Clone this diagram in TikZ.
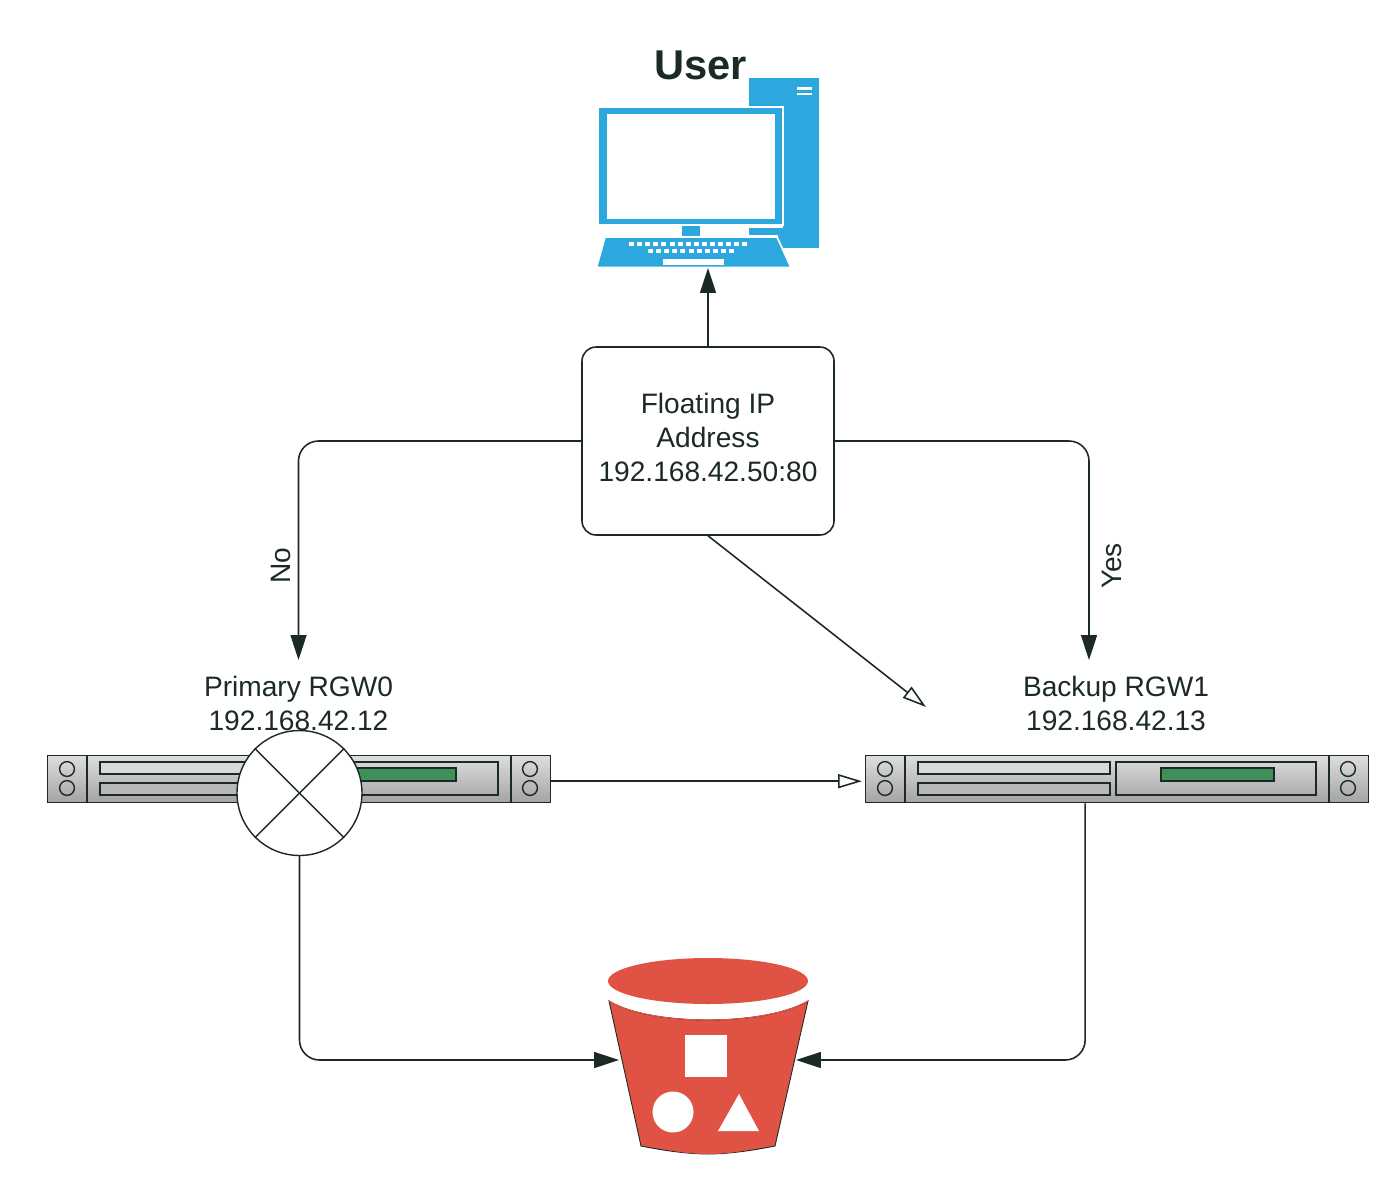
\documentclass[tikz,border=0pt]{standalone}
\usepackage{fontspec}
\setmainfont{Liberation Sans}
\usetikzlibrary{positioning,arrows.meta,calc}

\definecolor{inkdark}{HTML}{1C2A25}
\definecolor{pcblue}{HTML}{2CA8DE}
\definecolor{bucketred}{HTML}{E05243}
\definecolor{ledgreen}{HTML}{3F8F5A}

\tikzset{
  label text/.style={text=inkdark, font=\fontsize{16}{19.3}\selectfont, align=center},
  link/.style={draw=inkdark, line width=0.9pt, rounded corners=0.4cm},
  solidhead/.style={-{Triangle[length=0.5cm,width=0.32cm,color=inkdark]}},
  openhead/.style={-{Triangle[open,length=0.48cm,width=0.28cm,color=inkdark]}},
  floatbox/.style={label text, draw=inkdark, line width=0.9pt, rounded corners=0.28cm, fill=white, minimum width=5.04cm, minimum height=3.76cm, inner sep=0pt},
  srvbody/.style={draw=inkdark, line width=0.8pt, top color=black!13, bottom color=black!36, minimum width=10.06cm, minimum height=0.94cm, anchor=north west, inner sep=0pt},
  srvline/.style={draw=inkdark, line width=0.8pt},
  ghost/.style={inner sep=0pt, outer sep=0pt},
  server parts/.pic={
    \draw[srvline] (40,0) -- (40,47);
    \draw[srvline] (464,0) -- (464,47);
    \foreach \cx in {20,483} {
      \draw[srvline] (\cx,14) circle (0.148cm);
      \draw[srvline] (\cx,33) circle (0.148cm);
    }
    \draw[srvline, fill=black!15] (53,7) rectangle (245,19);
    \draw[srvline, fill=black!28] (53,28) rectangle (245,40);
    \draw[srvline] (251,7) rectangle (451,40);
    \draw[srvline, fill=ledgreen] (296,13) rectangle (409,26);
  },
}

\begin{document}
\begin{tikzpicture}[x=0.02cm,y=-0.02cm]
    \useasboundingbox (0,0) rectangle (1400,1177);

    %coordinates
    \coordinate (fallback) at (926,707);
    \coordinate (backupin) at (1089,660);

    %computer
    \fill[pcblue] (749,78) rectangle (819,248);
    \fill[white] (797,87) rectangle (812,89.5);
    \fill[white] (797,93) rectangle (812,95);
    \fill[white] (749,226) rectangle (783,228);
    \fill[white] (749,235) rectangle (778,237);
    \draw[white, line width=1pt, fill=pcblue] (598,107) rectangle (783,225);
    \fill[white] (607,114) rectangle (775,219);
    \fill[white] (598,226) rectangle (749,237);
    \fill[pcblue] (682,226) rectangle (700,236);
    \draw[white, line width=1pt, fill=pcblue] (605,237) -- (777,237) -- (791,267.5) -- (596.5,267.5) -- cycle;
    \foreach \kx in {0,...,14} {
      \fill[white] ({629+8.1*\kx},242) rectangle ++(5,4);
    }
    \foreach \kx in {0,...,10} {
      \fill[white] ({648+8.1*\kx},248.5) rectangle ++(5,4);
    }
    \fill[white] (663,259) rectangle (724,264.5);

    %bucket
    \fill[bucketred] (708,981) ellipse (2cm and 0.46cm);
    \draw[inkdark, line width=0.5pt, fill=bucketred] (609,1001) .. controls (630,1014) and (670,1020) .. (708,1020)
      .. controls (746,1020) and (786,1014) .. (808,1001) -- (775,1146)
      .. controls (755,1150) and (730,1154) .. (708,1154)
      .. controls (686,1154) and (661,1150) .. (641,1146) -- cycle;
    \fill[bucketred] (642,1142) .. controls (661,1150) and (686,1154) .. (708,1154)
      .. controls (730,1154) and (755,1150) .. (774,1142) -- cycle;
    \draw[bucketred, line width=0.6pt] (609,1001) .. controls (630,1014) and (670,1020) .. (708,1020)
      .. controls (746,1020) and (786,1014) .. (808,1001);
    \fill[white] (685,1035) rectangle (727,1077);
    \fill[white] (673,1112) circle (0.41cm);
    \fill[white] (739,1094) -- (759,1131) -- (718,1131) -- cycle;

    %nodes
    \node[label text, font=\fontsize{23.7}{28}\selectfont\bfseries] (usertitle) at (700.5,65) {User};
    \node[ghost, minimum width=4.44cm, minimum height=3.8cm] (computer) at (708,173) {};
    \node[ghost, minimum width=3.54cm, minimum height=3.6cm] (bucket) at (707.5,1060) {};
    \node[floatbox] (floating) at (708,441) {Floating IP\\Address\\192.168.42.50:80\\[-14.8pt]\mbox{}};
    \node[label text, ghost, minimum height=1.72cm] (primary) at (298.5,703) {Primary RGW0\\192.168.42.12};
    \node[label text, ghost] (backup) at (1116,703) {Backup RGW1\\192.168.42.13};
    \node[srvbody] (rgw0) at (47,755) {};
    \pic at (47,755) {server parts};
    \node[srvbody] (rgw1) at (865,755) {};
    \pic at (865,755) {server parts};
    \node[draw=inkdark, line width=0.8pt, fill=white, circle, minimum size=2.5cm, inner sep=0pt] (fail) at (299.5,793) {};
    \node[label text, rotate=90] (nolabel) at (281,566) {No};
    \node[label text, rotate=90] (yeslabel) at (1112,566) {Yes};

    %edges
    \draw[srvline] (fail.45) -- (fail.225);
    \draw[srvline] (fail.135) -- (fail.315);

    \draw[link, solidhead] (floating.north) -- (computer.south);
    \draw[link, solidhead] (floating.west) -| (primary.north);
    \draw[link, solidhead] (floating.east) -| (backupin);
    \draw[link, openhead] (floating.south) -- (fallback);
    \draw[link, openhead] ($(rgw0.east) + (0,2)$) -- ($(rgw1.west) + (-3,2)$);
    \draw[link, solidhead] (fail.south) |- (bucket.west);
    \draw[link, solidhead] ($(rgw1.south) + (-32,0)$) |- (bucket.east);
\end{tikzpicture}
\end{document}
